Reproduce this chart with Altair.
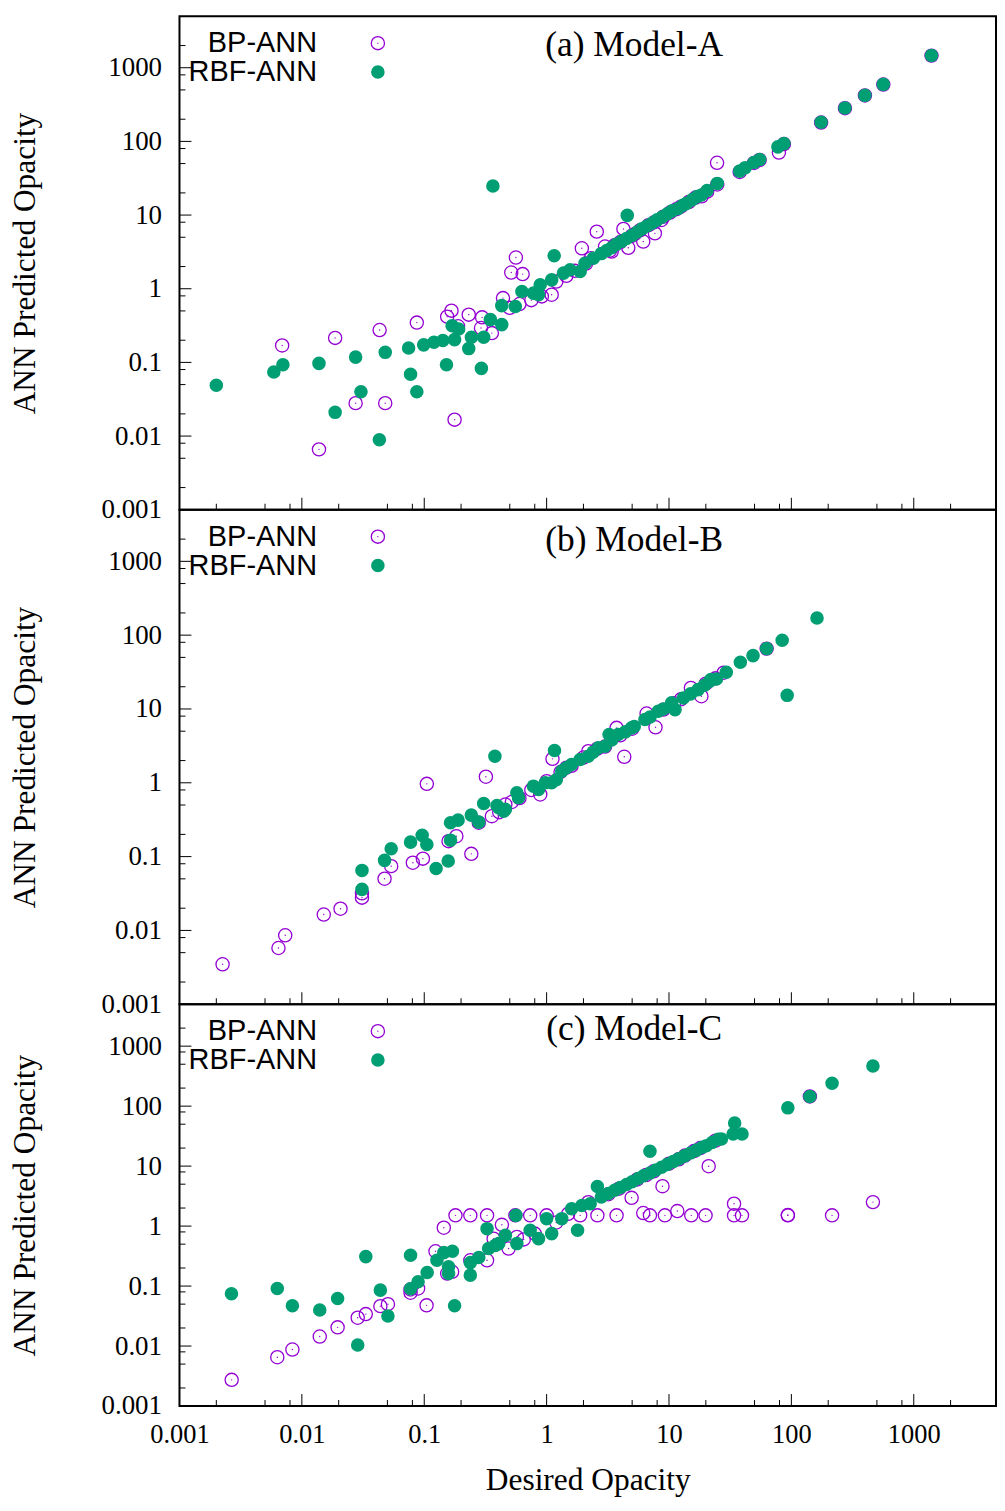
import altair as alt
import pandas as pd

# ---------------- data ----------------
# Panel (a) Model-A
a_bp_x = [0.0069, 0.0187, 0.0432, 0.087, 0.0275, 0.048, 0.0138, 0.177, 0.154, 0.167, 0.231, 0.189,
          0.297, 0.291, 0.357, 0.44, 0.514, 0.561, 0.637, 0.914, 1.10, 1.94, 2.57, 3.0, 3.4, 4.24,
          4.95, 4.65, 6.16, 7.67, 8.69, 24.7, 79.1,
          0.50, 0.60, 0.75, 1.2, 1.45, 1.7, 2.1, 2.3, 3.3, 3.6, 4.0, 5.3, 5.8, 6.8, 7.6, 9.0, 10.2,
          11.5, 12.5, 14.5, 16.5, 18.5, 20.5, 24.8, 37.8, 49.5, 55.0, 86.9, 175, 274, 399, 564, 1396]
a_bp_y = [0.17, 0.215, 0.275, 0.347, 0.028, 0.028, 0.0066, 0.0167, 0.418, 0.504, 0.445, 0.309,
          0.409, 0.293, 0.25, 0.746, 1.66, 2.65, 1.58, 0.787, 0.83, 3.54, 5.96, 3.74, 3.2, 6.49,
          5.21, 3.6, 4.37, 5.65, 8.59, 51.2, 70.5,
          0.55, 0.62, 0.70, 1.25, 1.5, 1.75, 2.2, 2.6, 3.3, 3.9, 4.3, 5.6, 6.2, 7.3, 8.0, 9.5, 10.8,
          12.0, 13.0, 15.0, 17.3, 18.0, 20.8, 26.0, 38.5, 51.0, 56.0, 92.0, 180, 282, 420, 590, 1460]
a_rbf_x = [0.002, 0.0059, 0.0070, 0.0138, 0.0275, 0.0304, 0.0187, 0.048, 0.043, 0.0745, 0.0773, 0.087,
           0.099, 0.120, 0.142, 0.152, 0.169, 0.191, 0.177, 0.231, 0.243, 0.293, 0.306, 0.347, 0.364,
           0.43, 0.43, 0.555, 0.628, 0.781, 0.887, 0.859, 1.10, 1.153, 1.373, 1.556, 1.88, 2.06, 2.41,
           4.56, 2.8, 3.1, 3.4, 3.7, 4.1, 4.5, 5.0, 5.5, 6.0, 6.6, 7.3, 8.0, 8.8, 9.7, 10.6, 11.9,
           13.0, 13.9, 15.5, 17.0, 18.4, 20.5, 24.8, 37.8, 42.0, 49.5, 55.1, 77.6, 86.9, 175, 274,
           399, 564, 1396]
a_rbf_y = [0.049, 0.074, 0.093, 0.097, 0.118, 0.040, 0.021, 0.137, 0.0089, 0.157, 0.069, 0.040,
           0.173, 0.188, 0.198, 0.093, 0.315, 0.284, 0.204, 0.154, 0.219, 0.083, 0.219, 0.381, 24.8,
           0.59, 0.326, 0.575, 0.918, 0.871, 1.13, 0.83, 1.32, 2.80, 1.63, 1.81, 1.71, 2.22, 2.59,
           9.9, 3.0, 3.3, 3.6, 4.0, 4.4, 4.8, 5.3, 5.9, 6.5, 7.1, 7.8, 8.6, 9.4, 10.4, 11.4, 12.3,
           13.6, 14.4, 16.2, 17.8, 18.7, 21.5, 26.9, 39.5, 44.0, 51.6, 56.7, 84.3, 93.4, 182, 284,
           422, 594, 1467]

# Panel (b) Model-B
b_bp_x = [0.00225, 0.00644, 0.00731, 0.0151, 0.0207, 0.031, 0.031, 0.0474, 0.0537, 0.0807, 0.0975,
          0.105, 0.158, 0.183, 0.2425, 0.319, 0.279, 0.357, 0.46, 1.117, 4.31, 3.73, 7.76, 6.56,
          15.1, 18.4, 2.19, 0.887,
          0.41, 0.52, 0.6, 0.75, 1.0, 1.3, 1.45, 1.6, 2.0, 2.6, 3.0, 4.0, 5.0, 9.0, 11.0, 12.5,
          20.0, 24.0, 28.0, 62.8]
b_bp_y = [0.00348, 0.00578, 0.0086, 0.0164, 0.0197, 0.0278, 0.0318, 0.0502, 0.0743, 0.0826, 0.0938,
          0.968, 0.162, 0.189, 0.109, 1.21, 0.288, 0.353, 0.508, 2.11, 2.25, 5.55, 5.65, 8.67,
          19.3, 14.9, 2.68, 0.695,
          0.40, 0.55, 0.62, 0.80, 1.05, 1.4, 1.6, 1.7, 2.2, 2.9, 3.1, 4.4, 5.4, 9.8, 12.0, 13.5,
          22.0, 26.0, 31.0, 65.7]
b_rbf_x = [0.378, 0.031, 0.031, 0.0474, 0.0537, 0.0773, 0.0962, 0.105, 0.125, 0.157, 0.164, 0.164,
           0.189, 0.2425, 0.279, 0.306, 0.393, 0.446, 1.16, 3.24, 162, 92.4, 84.1, 62.8, 48.6,
           38.3, 29.4, 24.4, 21.5, 11.2,
           0.406, 0.46, 0.571, 0.59, 0.781, 0.859, 0.975, 1.10, 1.2, 1.33, 1.45, 1.60, 1.88, 2.19,
           2.4, 2.65, 3.0, 3.4, 3.85, 4.4, 4.95, 5.2, 6.36, 7.0, 8.17, 9.0, 10.5, 13.1, 15.0,
           17.3, 19.5, 22.0]
b_rbf_y = [2.29, 0.065, 0.036, 0.089, 0.128, 0.157, 0.194, 0.146, 0.069, 0.087, 0.288, 0.167,
           0.312, 0.365, 0.293, 0.525, 0.493, 0.413, 2.74, 4.5, 171, 15.3, 85.1, 65.7, 52.8,
           42.9, 31.4, 25.5, 23.7, 9.8,
           0.459, 0.436, 0.733, 0.627, 0.90, 0.81, 1.0, 1.0, 1.1, 1.44, 1.6, 1.77, 2.07, 2.29,
           2.6, 2.98, 3.13, 3.8, 4.5, 4.9, 5.55, 5.8, 7.19, 7.8, 9.31, 10.0, 12.1, 14.1, 16.0,
           18.3, 21.0, 25.0]

# Panel (c) Model-C
c_bp_x = [0.00267, 0.0063, 0.00837, 0.0140, 0.0196, 0.0286, 0.0333, 0.0438, 0.0505, 0.1045, 0.0773,
          0.0773, 0.0891, 0.1445, 0.1236, 0.154, 0.169, 0.238, 0.326, 0.369, 0.431, 0.489, 0.571,
          0.18, 0.238, 0.326, 0.555, 0.734, 1.0, 1.88, 2.60, 3.73, 6.99, 9.26, 15.2, 19.9, 34.0,
          39.5, 93.6, 93.6, 215, 6.16, 11.7, 34.0, 464, 4.95, 8.85, 21.1, 2.19, 141.6,
          0.65, 0.8, 1.2, 1.5, 3.2, 3.9, 5.5, 6.5, 7.5, 10.0, 12.0, 13.5, 16.0, 18.0, 24.0]
c_bp_y = [0.00273, 0.00652, 0.00875, 0.0144, 0.0205, 0.0297, 0.0341, 0.0463, 0.050, 0.0477, 0.0879,
          0.0774, 0.0912, 0.94, 0.38, 0.162, 0.173, 0.269, 0.269, 0.618, 1.05, 0.422, 0.659,
          1.51, 1.51, 1.51, 1.51, 1.51, 1.51, 1.51, 1.51, 1.51, 1.51, 1.51, 1.51, 1.51, 1.51,
          1.51, 1.51, 1.53, 1.51, 1.65, 1.78, 2.36, 2.51, 2.96, 4.63, 9.96, 2.51, 145,
          0.60, 0.75, 1.15, 1.6, 3.4, 4.2, 6.0, 7.1, 8.2, 11.0, 13.0, 15.0, 17.8, 20.0, 26.5]
c_rbf_x = [0.00266, 0.0063, 0.00837, 0.0140, 0.0196, 0.0286, 0.0333, 0.0438, 0.0505, 0.0773, 0.0773,
           0.0891, 0.1057, 0.127, 0.1445, 0.17, 0.158, 0.158, 0.177, 0.238, 0.238, 0.279, 0.326,
           0.336, 0.381, 0.406, 0.46, 0.561, 0.571, 0.734, 0.859, 1.0, 1.10, 1.33, 1.60, 1.79, 1.94,
           2.27, 2.60, 6.99, 464, 215, 141.6, 93.6, 34.4, 39.5, 33.4, 26.8, 20.2,
           2.8, 3.2, 3.6, 4.0, 4.5, 5.0, 5.6, 6.2, 7.0, 7.8, 8.7, 9.7, 10.8, 12.0, 13.4, 15.0,
           16.8, 18.7, 22.5, 25.2]
c_rbf_y = [0.0745, 0.0912, 0.0471, 0.0398, 0.0622, 0.0104, 0.31, 0.0855, 0.0316, 0.326, 0.09,
           0.118, 0.168, 0.269, 0.361, 0.38, 0.21, 0.162, 0.0471, 0.152, 0.246, 0.299, 0.906,
           0.422, 0.477, 0.51, 0.70, 1.51, 0.511, 0.85, 0.618, 1.33, 0.749, 1.33, 1.95, 0.85, 2.21,
           2.36, 4.57, 17.7, 468, 241, 145, 93.7, 52.2, 34.3, 34.3, 28.3, 21.9,
           3.05, 3.5, 3.95, 4.4, 4.95, 5.5, 6.2, 6.9, 7.7, 8.6, 9.6, 10.7, 11.9, 13.2, 14.8, 16.5,
           18.5, 20.6, 24.8, 28.0]

panel_titles = ["(a) Model-A", "(b) Model-B", "(c) Model-C"]
series_names = ["BP-ANN", "RBF-ANN"]
major_ticks = [0.001, 0.01, 0.1, 1, 10, 100, 1000]
minor_ticks = [m * d for d in [0.001, 0.01, 0.1, 1, 10, 100, 1000] for m in (2, 5, 8) if m * d < 4700]
x_range = [0.001, 4700]
y_range = [0.001, 5000]

# ---------------- styling ----------------
PURPLE = "#9400d3"
GREEN = "#009e73"
SERIF = "Liberation Serif"
SANS = "Liberation Sans"
W = 819
heights = [495, 496, 403]
title_y = [29, 30, 25]

xs = alt.Scale(type="log", domain=x_range, nice=False)
ys = alt.Scale(type="log", domain=y_range, nice=False)

YAXIS = alt.Axis(values=major_ticks, format="~g", ticks=False, domain=False, grid=False,
                 labelFont=SERIF, labelFontSize=27, labelColor="black", labelPadding=18,
                 title="ANN Predicted Opacity", titleFont=SERIF, titleFontSize=31.5,
                 titleFontWeight="normal", titleColor="black", titlePadding=60)
XAXIS = alt.Axis(values=major_ticks, format="~g", ticks=False, domain=False, grid=False,
                 labelFont=SERIF, labelFontSize=26.5, labelColor="black", labelPadding=16,
                 labelFlush=False, labelOverlap=False,
                 title="Desired Opacity", titleFont=SERIF, titleFontSize=31.5,
                 titleFontWeight="normal", titleColor="black", titlePadding=16)


def panel(title, bx, by, rx, ry, h, ty, show_x):
    xa = XAXIS if show_x else None
    bp = pd.DataFrame({"x": bx, "y": by})
    rbf = pd.DataFrame({"x": rx, "y": ry})
    enc = dict(x=alt.X("x:Q", scale=xs, axis=xa), y=alt.Y("y:Q", scale=ys, axis=YAXIS))

    l_bp = alt.Chart(bp).mark_point(shape="circle", filled=False, size=175, strokeWidth=1.3,
                                    color=PURPLE, opacity=1).encode(**enc)
    l_bpdot = alt.Chart(bp).mark_point(shape="circle", filled=True, size=2, color=PURPLE,
                                       opacity=1).encode(**enc)
    l_rbf = alt.Chart(rbf).mark_point(shape="circle", filled=True, size=185, color=GREEN,
                                      opacity=1).encode(**enc)

    maj = pd.DataFrame({"v": major_ticks})
    mnr = pd.DataFrame({"v": minor_ticks})
    ry_maj = alt.Chart(maj).mark_rule(color="black", strokeWidth=1).encode(
        y=alt.Y("v:Q", scale=ys, axis=YAXIS), x=alt.value(0), x2=alt.value(12))
    ry_min = alt.Chart(mnr).mark_rule(color="black", strokeWidth=1).encode(
        y=alt.Y("v:Q", scale=ys, axis=YAXIS), x=alt.value(0), x2=alt.value(6))
    rx_maj = alt.Chart(maj).mark_rule(color="black", strokeWidth=1).encode(
        x=alt.X("v:Q", scale=xs, axis=xa), y=alt.value(h), y2=alt.value(h - 12))
    rx_min = alt.Chart(mnr).mark_rule(color="black", strokeWidth=1).encode(
        x=alt.X("v:Q", scale=xs, axis=xa), y=alt.value(h), y2=alt.value(h - 6))

    one = pd.DataFrame({"k": [0]})
    t_title = alt.Chart(one).mark_text(text=title, font=SERIF, fontSize=35.5, align="center",
                                       baseline="middle", color="black").encode(
        x=alt.value(456), y=alt.value(ty))
    t_bp = alt.Chart(one).mark_text(text=series_names[0], font=SANS, fontSize=29, align="right",
                                    baseline="middle", color="black").encode(
        x=alt.value(138), y=alt.value(27))
    t_rbf = alt.Chart(one).mark_text(text=series_names[1], font=SANS, fontSize=29, align="right",
                                     baseline="middle", color="black").encode(
        x=alt.value(138), y=alt.value(56))
    s_bp = alt.Chart(one).mark_point(shape="circle", filled=False, size=175, strokeWidth=1.3,
                                     color=PURPLE, opacity=1).encode(x=alt.value(199), y=alt.value(27))
    s_bpd = alt.Chart(one).mark_point(shape="circle", filled=True, size=2, color=PURPLE,
                                      opacity=1).encode(x=alt.value(199), y=alt.value(27))
    s_rbf = alt.Chart(one).mark_point(shape="circle", filled=True, size=185, color=GREEN,
                                      opacity=1).encode(x=alt.value(199), y=alt.value(56))

    return alt.layer(l_bp, l_bpdot, l_rbf, ry_maj, ry_min, rx_maj, rx_min,
                     t_title, t_bp, t_rbf, s_bp, s_bpd, s_rbf).properties(width=W, height=h)


pa = panel(panel_titles[0], a_bp_x, a_bp_y, a_rbf_x, a_rbf_y, heights[0], title_y[0], False)
pb = panel(panel_titles[1], b_bp_x, b_bp_y, b_rbf_x, b_rbf_y, heights[1], title_y[1], False)
pc = panel(panel_titles[2], c_bp_x, c_bp_y, c_rbf_x, c_rbf_y, heights[2], title_y[2], True)

chart = alt.vconcat(pa, pb, pc, spacing=0, bounds="flush").properties(
    padding={"left": 0, "top": 5, "right": 0, "bottom": 2}, background="white"
).configure_view(stroke="black", strokeWidth=2)

chart.save("out.html", embed_options={"renderer": "svg", "actions": False})
